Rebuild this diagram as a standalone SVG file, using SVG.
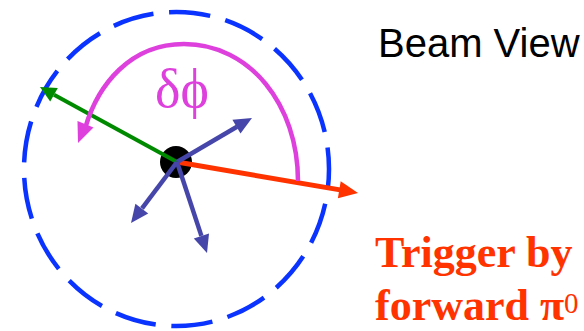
<svg xmlns="http://www.w3.org/2000/svg" width="584" height="331" viewBox="0 0 584 331">
<style>
.ring{fill:none;stroke:#0A33FF;stroke-width:4.5;stroke-dasharray:41.5 15.7;stroke-dashoffset:22.1}
.blue{stroke:#4646AA;stroke-width:4.5;fill:none}
.bluehead{fill:#4646AA}
.green{stroke:#008A00;stroke-width:4;fill:none}
.greenhead{fill:#008A00}
.red{stroke:#FF3300;stroke-width:5;fill:none}
.redhead{fill:#FF3300}
.mag{stroke:#DD40DD;stroke-width:4.5;fill:none}
.maghead{fill:#DD40DD}
.sans{font-family:"Liberation Sans",Arial,sans-serif}
.serif{font-family:"Liberation Serif","Times New Roman",serif}
</style>
<rect width="584" height="331" fill="#FFFFFF"/>
<g id="ring">
<ellipse class="ring" cx="176.5" cy="169" rx="152.5" ry="157"/>
</g>
<g id="vertex">
<circle cx="176" cy="162" r="16" fill="#000000"/>
</g>
<g id="connectors">
<g id="green-arrow">
<line class="green" x1="177" y1="162" x2="54" y2="94.7"/>
<polygon class="greenhead" points="40,87 57.8,88 50.2,101.4"/>
</g>
<g id="red-arrow">
<line class="red" x1="177" y1="162" x2="340" y2="189.9"/>
<polygon class="redhead" points="358,193 340.7,181.3 337.9,198.3"/>
</g>
<g id="blue-arrows">
<line class="blue" x1="177" y1="162" x2="237" y2="126.8"/>
<polygon class="bluehead" points="252,118 232.4,119.8 240.5,133.6"/>
<line class="blue" x1="177" y1="162" x2="142" y2="208.4"/>
<polygon class="bluehead" points="131,223 135.4,203.8 148.2,213.4"/>
<line class="blue" x1="177" y1="162" x2="201.4" y2="235.9"/>
<polygon class="bluehead" points="207,253 193.8,238.4 209,233.4"/>
</g>
<g id="dphi-arc">
<path class="mag" d="M 298 181 C 298 105 250 44 184 44 C 130 44 98 85 85.5 127"/>
<polygon class="maghead" points="78,143 77.5,121.1 93.5,127.6"/>
</g>
</g>
<g id="label-dphi">
<text class="serif" x="155" y="107" font-size="54" fill="#DD40DD">δϕ</text>
</g>
<g id="label-beam">
<text class="sans" x="378" y="57" font-size="40" fill="#000000">Beam View</text>
</g>
<g id="label-trigger">
<text class="serif" x="375" y="267" font-size="44" font-weight="bold" fill="#FF3300">Trigger by</text>
<text class="serif" x="375" y="320" font-size="44" font-weight="bold" fill="#FF3300">forward π<tspan font-size="29" font-weight="normal" dy="-7">0</tspan></text>
</g>
</svg>
